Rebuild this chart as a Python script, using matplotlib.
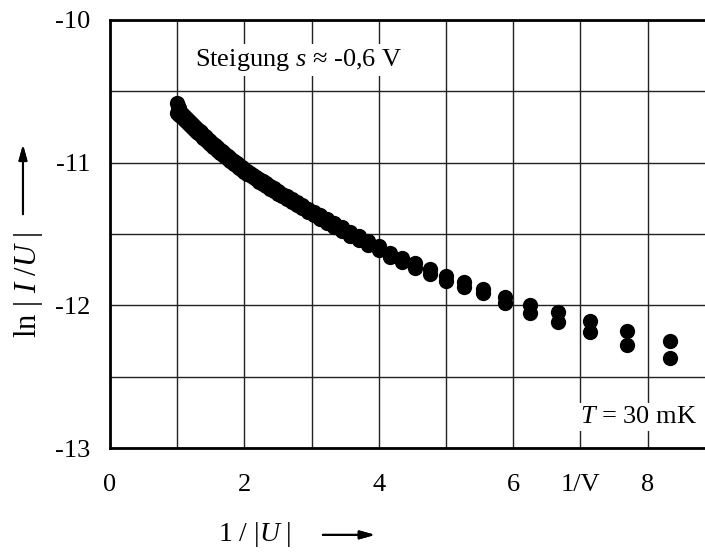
import numpy as np
import matplotlib
matplotlib.use("Agg")
import matplotlib.pyplot as plt
from matplotlib.ticker import MultipleLocator

plt.rcParams["font.family"] = ["Liberation Serif", "DejaVu Serif"]
plt.rcParams["mathtext.fontset"] = "custom"
plt.rcParams["mathtext.rm"] = "Liberation Serif"
plt.rcParams["mathtext.it"] = "Liberation Serif:italic"
plt.rcParams["axes.unicode_minus"] = False

# bias voltage |U| in V, swept down from 1 V
voltage = [
    1.00, 0.99, 0.98, 0.97, 0.96, 0.95, 0.94, 0.93, 0.92, 0.91,
    0.90, 0.89, 0.88, 0.87, 0.86, 0.85, 0.84, 0.83, 0.82, 0.81,
    0.80, 0.79, 0.78, 0.77, 0.76, 0.75, 0.74, 0.73, 0.72, 0.71,
    0.70, 0.69, 0.68, 0.67, 0.66, 0.65, 0.64, 0.63, 0.62, 0.61,
    0.60, 0.59, 0.58, 0.57, 0.56, 0.55, 0.54, 0.53, 0.52, 0.51,
    0.50, 0.49, 0.48, 0.47, 0.46, 0.45, 0.44, 0.43, 0.42, 0.41,
    0.40, 0.39, 0.38, 0.37, 0.36, 0.35, 0.34, 0.33, 0.32, 0.31,
    0.30, 0.29, 0.28, 0.27, 0.26, 0.25, 0.24, 0.23, 0.22, 0.21,
    0.20, 0.19, 0.18, 0.17, 0.16, 0.15, 0.14, 0.13, 0.12,
]

# ln|I/U| for both sweep directions
ln_iu_a = [
    -10.585, -10.605, -10.620, -10.635, -10.643, -10.650, -10.656, -10.661, -10.667, -10.672,
    -10.678, -10.684, -10.690, -10.696, -10.702, -10.709, -10.715, -10.722, -10.729, -10.736,
    -10.743, -10.750, -10.757, -10.764, -10.772, -10.780, -10.788, -10.796, -10.804, -10.813,
    -10.822, -10.831, -10.840, -10.850, -10.859, -10.868, -10.878, -10.888, -10.898, -10.909,
    -10.920, -10.931, -10.943, -10.955, -10.966, -10.978, -10.990, -11.003, -11.016, -11.030,
    -11.044, -11.057, -11.070, -11.084, -11.098, -11.113, -11.129, -11.145, -11.162, -11.180,
    -11.199, -11.217, -11.236, -11.256, -11.277, -11.299, -11.323, -11.345, -11.370, -11.396,
    -11.424, -11.454, -11.485, -11.516, -11.550, -11.586, -11.630, -11.665, -11.705, -11.748,
    -11.792, -11.835, -11.885, -11.940, -12.000, -12.050, -12.110, -12.180, -12.250,
]
ln_iu_b = [
    -10.650, -10.655, -10.660, -10.665, -10.668, -10.672, -10.676, -10.681, -10.687, -10.692,
    -10.698, -10.704, -10.710, -10.716, -10.722, -10.729, -10.735, -10.742, -10.749, -10.756,
    -10.763, -10.770, -10.777, -10.784, -10.792, -10.800, -10.808, -10.816, -10.824, -10.833,
    -10.842, -10.851, -10.860, -10.870, -10.879, -10.888, -10.898, -10.908, -10.918, -10.929,
    -10.940, -10.951, -10.963, -10.975, -10.986, -10.998, -11.010, -11.023, -11.036, -11.050,
    -11.064, -11.077, -11.090, -11.104, -11.118, -11.133, -11.149, -11.165, -11.182, -11.200,
    -11.219, -11.237, -11.256, -11.276, -11.297, -11.319, -11.343, -11.369, -11.394, -11.420,
    -11.448, -11.478, -11.511, -11.540, -11.574, -11.612, -11.660, -11.695, -11.735, -11.782,
    -11.828, -11.875, -11.915, -11.985, -12.055, -12.120, -12.190, -12.280, -12.370,
]

x_ticks = [0, 2, 4, 6, 7, 8]
x_ticklabels = ["0", "2", "4", "6", "1/V", "8"]
y_ticks = [-13, -12, -11, -10]

inv_u = 1.0 / np.array(voltage)

fig = plt.figure(figsize=(7.05, 5.52), dpi=100)
ax = fig.add_axes([0.156, 0.1884, 0.858, 0.7754])

ax.plot(inv_u, ln_iu_a, "o", color="black", ms=11, mec="none", zorder=3)
ax.plot(inv_u, ln_iu_b, "o", color="black", ms=11, mec="none", zorder=3)

ax.set_xlim(0, 9)
ax.set_ylim(-13, -10)
ax.set_xticks(x_ticks)
ax.set_xticklabels(x_ticklabels)
ax.set_yticks(y_ticks)
ax.xaxis.set_minor_locator(MultipleLocator(1))
ax.yaxis.set_minor_locator(MultipleLocator(0.5))
ax.grid(which="both", color="#222222", lw=1.0)
ax.set_axisbelow(True)
ax.tick_params(which="both", length=0, labelsize=19)
ax.tick_params(axis="x", pad=19)
ax.tick_params(axis="y", pad=14)
for side in ["left", "bottom", "top", "right"]:
    ax.spines[side].set_linewidth(2.0)

box = dict(facecolor="white", edgecolor="none", pad=2)
ax.text(1.26, -10.28, "Steigung $s$ ≈ -0,6 V", fontsize=19,
        ha="left", va="center", bbox=box, zorder=4)
ax.text(8.73, -12.78, "$T$ = 30 mK", fontsize=19,
        ha="right", va="center", bbox=box, zorder=4)

# axis labels with arrows pointing along the axes
fig.text(0.040, 0.484, "ln | $I$ /$U$ |", rotation=90, fontsize=22,
         ha="center", va="center")
fig.text(0.362, 0.031, "1 / |$U$ |", fontsize=20, ha="center", va="center")
arrow = dict(arrowstyle="-|>,head_length=0.9,head_width=0.25", color="black", lw=1.5)
fig.add_artist(plt.annotate("", xy=(0.0326, 0.743), xytext=(0.0326, 0.607),
                            xycoords="figure fraction", textcoords="figure fraction",
                            arrowprops=arrow))
fig.add_artist(plt.annotate("", xy=(0.536, 0.031), xytext=(0.454, 0.031),
                            xycoords="figure fraction", textcoords="figure fraction",
                            arrowprops=arrow))

fig.savefig("out.png", dpi=100)
